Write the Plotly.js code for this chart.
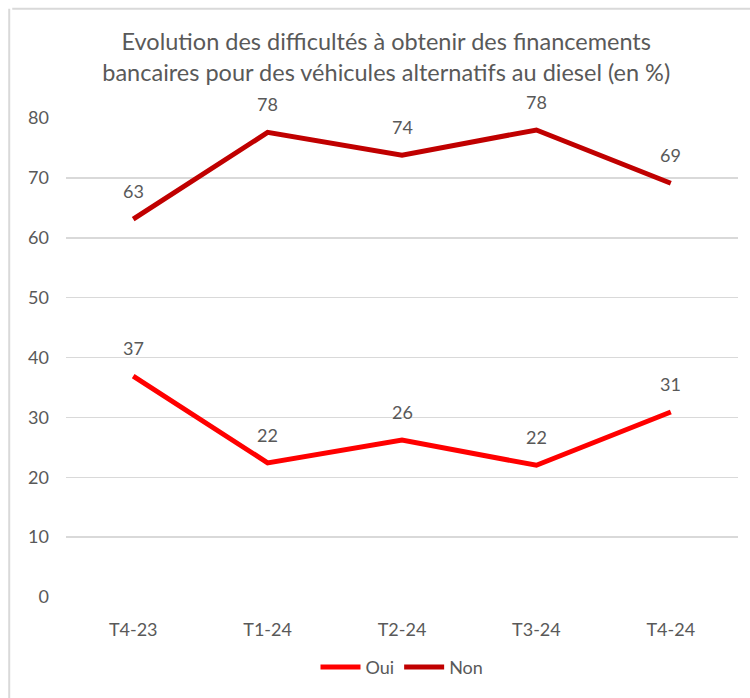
<!DOCTYPE html>
<html><head><meta charset="utf-8">
<script src="https://cdn.plot.ly/plotly-3.0.1.min.js"></script>
<style>html,body{margin:0;padding:0;background:#fff;}#chart{width:750px;height:698px;}</style>
</head><body><div id="chart"></div>
<script>
const categories = ["T4-23", "T1-24", "T2-24", "T3-24", "T4-24"];
const oui = [36.9, 22.4, 26.2, 22.0, 30.9];
const non = [63.1, 77.6, 73.8, 78.0, 69.1];
const yTicks = [0, 10, 20, 30, 40, 50, 60, 70, 80];

const font = "Lato, 'Noto Sans', sans-serif";
const grey = "#595959";

const traces = [
  {x: categories, y: oui, name: "Oui", type: "scatter", mode: "lines",
   line: {color: "#FF0000", width: 5}, hoverinfo: "skip"},
  {x: categories, y: non, name: "Non", type: "scatter", mode: "lines",
   line: {color: "#C00000", width: 5}, hoverinfo: "skip"}
];

const annotations = [];
[oui, non].forEach(series => {
  series.forEach((v, i) => {
    annotations.push({x: categories[i], y: v, xref: "x", yref: "y",
      text: String(Math.round(v)), showarrow: false, yshift: 28,
      font: {family: font, size: 18, color: grey}});
  });
});

const layout = {
  width: 750, height: 698,
  margin: {l: 66, r: 12, t: 118, b: 101},
  paper_bgcolor: "#fff", plot_bgcolor: "#fff",
  font: {family: font, color: grey, size: 18},
  title: {text: "Evolution des difficultés à obtenir des financements<br>bancaires pour des véhicules alternatifs au diesel (en %)",
    font: {family: font, size: 23.5, color: grey}, x: 0.515, xanchor: "center", y: 0.928, yanchor: "middle"},
  xaxis: {type: "category", range: [-0.5, 4.5], showgrid: false, zeroline: false, showline: false,
    ticks: "", ticklabelstandoff: 20, tickfont: {size: 18, color: grey}, fixedrange: true},
  yaxis: {range: [0, 80], tickvals: yTicks, ticktext: yTicks.map(String),
    showgrid: true, gridcolor: "#D9D9D9", gridwidth: 1.5, zeroline: false, showline: false,
    ticks: "", ticklabelstandoff: 16, tickfont: {size: 18, color: grey}, fixedrange: true},
  showlegend: true,
  legend: {orientation: "h", x: 0.5, xanchor: "center", y: -0.147, yanchor: "middle",
    font: {size: 18, color: grey}, itemwidth: 40, tracegroupgap: 0},
  annotations: annotations,
  shapes: [
    {type: "line", xref: "paper", yref: "paper", x0: -0.08, x1: 1.1, y0: 1.228, y1: 1.228,
     line: {color: "#D9D9D9", width: 2}},
    {type: "line", xref: "paper", yref: "paper", x0: -0.0845, x1: -0.0845, y0: -0.3, y1: 1.228,
     line: {color: "#D9D9D9", width: 2}}
  ]
};

Plotly.newPlot("chart", traces, layout, {staticPlot: true, displayModeBar: false});
</script></body></html>
